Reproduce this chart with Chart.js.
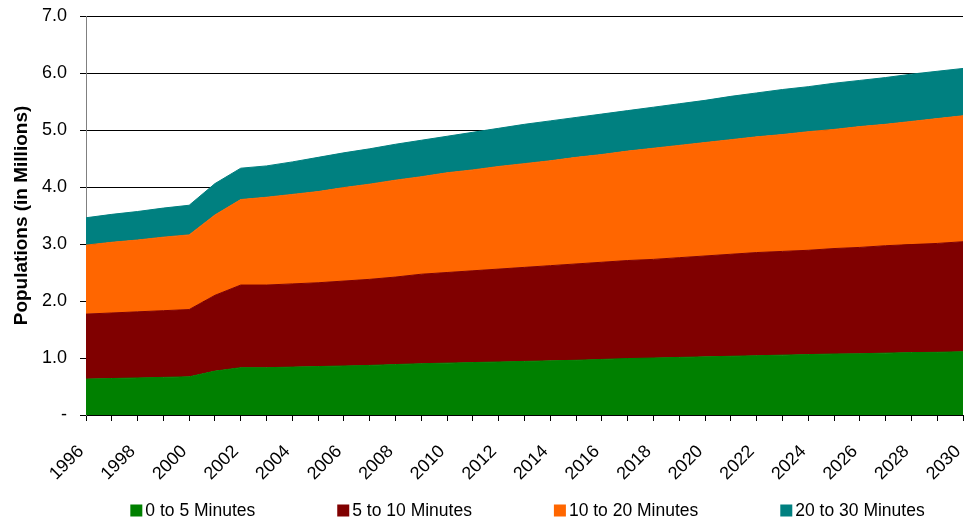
<!DOCTYPE html>
<html>
<head>
<meta charset="utf-8">
<script src="https://cdn.jsdelivr.net/npm/chart.js@4/dist/chart.umd.min.js"></script>
<style>
  html, body { margin: 0; padding: 0; background: #ffffff; }
  #wrap { width: 968px; height: 523px; position: relative; }
</style>
</head>
<body>
<div id="wrap"><canvas id="chart"></canvas></div>
<script>
// Years on the horizontal axis
const years = ['1996','1997','1998','1999','2000','2001','2002','2003','2004','2005',
               '2006','2007','2008','2009','2010','2011','2012','2013','2014','2015',
               '2016','2017','2018','2019','2020','2021','2022','2023','2024','2025',
               '2026','2027','2028','2029','2030'];

// Population (millions) within each travel-time band
const within0to5 = [0.63,0.64,0.65,0.66,0.67,0.77,0.83,0.83,0.84,0.85,
                    0.86,0.87,0.885,0.90,0.91,0.92,0.93,0.94,0.95,0.96,
                    0.975,0.99,1.00,1.01,1.02,1.03,1.04,1.05,1.06,1.07,
                    1.075,1.085,1.095,1.10,1.11];
const within5to10 = [1.14,1.15,1.16,1.17,1.18,1.33,1.45,1.45,1.46,1.47,
                     1.49,1.51,1.535,1.57,1.59,1.61,1.63,1.65,1.67,1.69,
                     1.705,1.72,1.73,1.75,1.77,1.79,1.81,1.82,1.83,1.85,
                     1.865,1.885,1.895,1.91,1.93];
const within10to20 = [1.21,1.24,1.26,1.29,1.31,1.41,1.50,1.54,1.57,1.60,
                      1.64,1.67,1.70,1.71,1.75,1.77,1.80,1.82,1.84,1.87,
                      1.89,1.92,1.95,1.97,1.99,2.01,2.03,2.05,2.08,2.09,
                      2.12,2.13,2.16,2.19,2.21];
const within20to30 = [0.48,0.49,0.50,0.51,0.52,0.55,0.55,0.55,0.57,0.60,
                      0.61,0.62,0.63,0.64,0.64,0.66,0.67,0.69,0.70,0.70,
                      0.71,0.71,0.72,0.73,0.74,0.76,0.77,0.79,0.79,0.81,
                      0.81,0.82,0.83,0.83,0.83];

// Series names and fills
const seriesNames = ['0 to 5 Minutes','5 to 10 Minutes','10 to 20 Minutes','20 to 30 Minutes'];
const seriesColors = ['#008000','#800000','#FF6600','#008080'];

// Value axis labels, from 0 to 7
const yTickLabels = ['-','1.0','2.0','3.0','4.0','5.0','6.0','7.0'];

const FONT = '"Liberation Sans", Arial, sans-serif';

// Legend drawn as a single centred row under the plot
const bottomLegend = {
  id: 'bottomLegend',
  afterDraw(chart) {
    const ctx = chart.ctx;
    const area = chart.chartArea;
    ctx.save();
    ctx.font = '17.5px ' + FONT;
    const box = 12, textGap = 3, itemGap = 82;
    const items = chart.data.datasets.map(d => ({ text: d.label, color: d.backgroundColor }));
    const widths = items.map(it => box + textGap + ctx.measureText(it.text).width);
    const total = widths.reduce((a, b) => a + b, 0) + itemGap * (items.length - 1);
    let x = (area.left + area.right) / 2 - total / 2 + 3;
    const cy = 510.5;
    ctx.textBaseline = 'middle';
    ctx.textAlign = 'left';
    items.forEach((it, i) => {
      ctx.fillStyle = it.color;
      ctx.fillRect(x, cy - box / 2, box, box);
      ctx.fillStyle = '#000000';
      ctx.fillText(it.text, x + box + textGap, cy + 1);
      x += widths[i] + itemGap;
    });
    ctx.restore();
  }
};

const series = [within0to5, within5to10, within10to20, within20to30];

new Chart(document.getElementById('chart'), {
  type: 'line',
  data: {
    labels: years,
    datasets: series.map((vals, i) => ({
      label: seriesNames[i],
      data: vals,
      backgroundColor: seriesColors[i],
      borderColor: seriesColors[i],
      borderWidth: 1,
      pointRadius: 0,
      tension: 0,
      fill: i === 0 ? 'origin' : '-1'
    }))
  },
  options: {
    responsive: true,
    maintainAspectRatio: false,
    animation: false,
    layout: { padding: { top: 16, right: 5, bottom: 0, left: 0 } },
    plugins: {
      legend: { display: false },
      tooltip: { enabled: false }
    },
    scales: {
      x: {
        offset: false,
        afterFit(scale) { scale.paddingLeft = 0; scale.paddingRight = 0; scale.height = 108; },
        grid: { display: true, drawOnChartArea: false, drawTicks: true, tickLength: 6, color: '#000000' },
        border: { display: true, color: '#000000' },
        ticks: {
          autoSkip: false,
          minRotation: 45,
          maxRotation: 45,
          padding: 20,
          labelOffset: -5,
          color: '#000000',
          font: { family: FONT, size: 18 },
          callback: function (value, index) {
            return index % 2 === 0 ? this.getLabelForValue(value) : '';
          }
        }
      },
      y: {
        stacked: true,
        min: 0,
        max: 7,
        afterFit(scale) { scale.paddingTop = 0; scale.paddingBottom = 0; scale.width = 86; },
        grid: { color: '#000000', tickLength: 6, drawTicks: true },
        border: { display: true, color: '#808080' },
        ticks: {
          stepSize: 1,
          padding: 13,
          color: '#000000',
          font: { family: FONT, size: 18 },
          callback: function (value) { return yTickLabels[Math.round(value)]; }
        },
        title: {
          display: true,
          text: 'Populations (in Millions)',
          color: '#000000',
          font: { family: FONT, size: 19, weight: 'bold' },
          padding: { top: 10, bottom: 9 }
        }
      }
    }
  },
  plugins: [bottomLegend]
});
</script>
</body>
</html>
